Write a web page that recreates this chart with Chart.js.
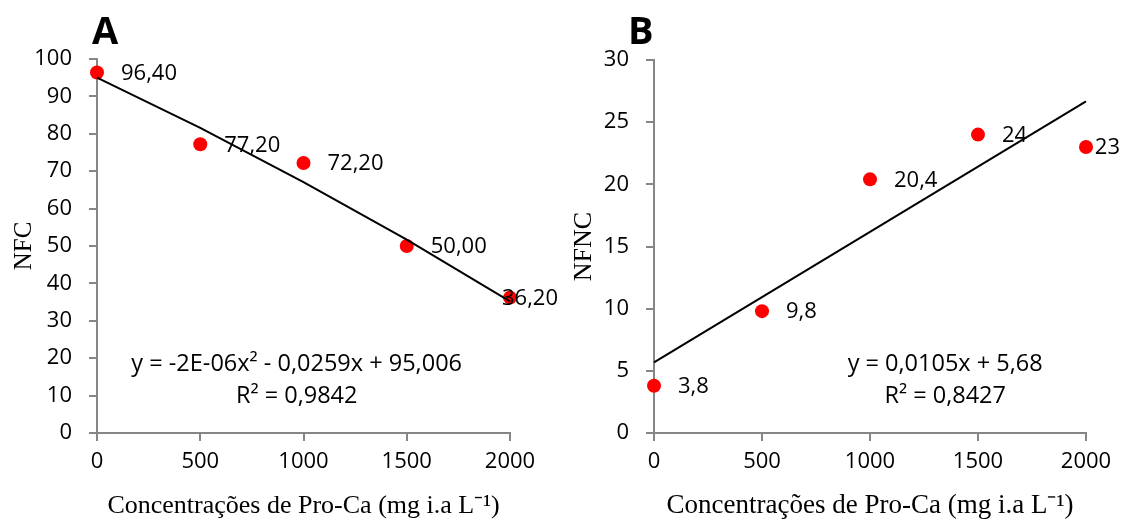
<!DOCTYPE html>
<html>
<head>
<meta charset="utf-8">
<script src="https://cdn.jsdelivr.net/npm/chart.js@4"></script>
<style>
  body { margin: 0; background: #fff; }
  #wrap { position: relative; width: 1122px; height: 523px; }
  #chartA { position: absolute; left: 0; top: 0; }
  #chartB { position: absolute; left: 560px; top: 0; }
</style>
</head>
<body>
<div id="wrap">
  <canvas id="chartA" width="560" height="523"></canvas>
  <canvas id="chartB" width="562" height="523"></canvas>
</div>
<script>
// dose levels (mg i.a. L-1)
const doses = [0, 500, 1000, 1500, 2000];

// panel A - NFC
const nfc = [96.4, 77.2, 72.2, 50.0, 36.2];
const nfcLabels = ['96,40', '77,20', '72,20', '50,00', '36,20'];
const nfcTrend = [95.0, 81.6, 67.1, 51.7, 35.2];
const nfcEquation = ['y = -2E-06x² - 0,0259x + 95,006', 'R² = 0,9842'];

// panel B - NFNC
const nfnc = [3.8, 9.8, 20.4, 24, 23];
const nfncLabels = ['3,8', '9,8', '20,4', '24', '23'];
const nfncTrendX = [0, 2000];
const nfncTrend = [5.68, 26.68];
const nfncEquation = ['y = 0,0105x + 5,68', 'R² = 0,8427'];

const xTitle = 'Concentrações de Pro-Ca (mg i.a L⁻¹)';
const tickFont = { family: '"Open Sans", sans-serif', size: 22 };
const axisGray = '#868686';

// draws value labels, the trend equation and the panel letter
const annotations = {
    id: 'annotations',
    afterDatasetsDraw(chart, args, opts) {
        const ctx = chart.ctx;
        const meta = chart.getDatasetMeta(1);
        ctx.save();
        ctx.font = '22px "Open Sans", sans-serif';
        ctx.fillStyle = '#000';
        ctx.textBaseline = 'middle';
        ctx.textAlign = 'left';
        meta.data.forEach((pt, i) => {
            const txt = opts.labels[i];
            const w = ctx.measureText(txt).width;
            let x = pt.x + 24;
            if (x + w > chart.width - 2) x = chart.width - 2 - w;
            ctx.fillText(txt, x, pt.y + 1);
        });
        ctx.font = '23.5px "Open Sans", sans-serif';
        ctx.textAlign = 'center';
        opts.equation.forEach((line, j) => {
            ctx.fillText(line, chart.scales.x.getPixelForValue(opts.eqX), chart.scales.y.getPixelForValue(opts.eqY[j]));
        });
        ctx.font = 'bold 38px "Open Sans", sans-serif';
        ctx.textAlign = 'left';
        ctx.textBaseline = 'alphabetic';
        ctx.fillText(opts.panel, opts.panelX, 44);
        ctx.restore();
    }
};

function makeChart(id, cfg) {
    return new Chart(document.getElementById(id), {
        type: 'scatter',
        data: {
            datasets: [{
                data: cfg.trendX.map((x, i) => ({ x: x, y: cfg.trend[i] })),
                showLine: true,
                borderColor: '#000',
                borderWidth: 2,
                pointRadius: 0,
                clip: false
            }, {
                data: doses.map((x, i) => ({ x: x, y: cfg.values[i] })),
                backgroundColor: '#ff0000',
                borderColor: '#ff0000',
                pointRadius: 7,
                borderWidth: 0,
                clip: false
            }]
        },
        options: {
            responsive: false,
            animation: false,
            layout: { padding: { left: 0, right: cfg.padRight, top: cfg.padTop, bottom: 0 } },
            plugins: {
                legend: { display: false },
                tooltip: { enabled: false },
                annotations: {
                    labels: cfg.labels,
                    equation: cfg.equation,
                    eqX: cfg.eqX,
                    eqY: cfg.eqY,
                    panel: cfg.panel,
                    panelX: cfg.panelX
                }
            },
            scales: {
                x: {
                    type: 'linear',
                    min: 0,
                    max: 2000,
                    afterFit: s => { s.height = 90; },
                    ticks: { stepSize: 500, color: '#000', font: tickFont, padding: 8, maxRotation: 0, callback: v => String(v) },
                    grid: { drawOnChartArea: false, drawTicks: true, tickLength: 8, color: axisGray, lineWidth: 2 },
                    border: { color: axisGray, width: 2 },
                    title: {
                        display: true,
                        text: xTitle,
                        color: '#000',
                        font: { family: '"Liberation Serif", serif', size: cfg.xTitleSize },
                        padding: { top: 0, bottom: 1 }
                    }
                },
                y: {
                    min: 0,
                    max: cfg.yMax,
                    afterFit: s => { s.width = cfg.axisLeft; },
                    ticks: { stepSize: cfg.yStep, color: '#000', font: tickFont, padding: 17, callback: v => String(v) },
                    grid: { drawOnChartArea: false, drawTicks: true, tickLength: 8, color: axisGray, lineWidth: 2 },
                    border: { color: axisGray, width: 2 },
                    title: {
                        display: true,
                        text: cfg.yTitle,
                        color: '#000',
                        font: { family: '"Liberation Serif", serif', size: cfg.yTitleSize },
                        padding: { top: 9, bottom: 0 }
                    }
                }
            }
        },
        plugins: [annotations]
    });
}

makeChart('chartA', {
    values: nfc, trendX: doses, trend: nfcTrend, labels: nfcLabels,
    equation: nfcEquation, eqX: 967, eqY: [18.4, 9.9],
    yMax: 100, yStep: 10, yTitle: 'NFC', xTitleSize: 26, yTitleSize: 25,
    axisLeft: 97, padRight: 50, padTop: 59,
    panel: 'A', panelX: 92
});

makeChart('chartB', {
    values: nfnc, trendX: nfncTrendX, trend: nfncTrend, labels: nfncLabels,
    equation: nfncEquation, eqX: 1348, eqY: [5.55, 2.98],
    yMax: 30, yStep: 5, yTitle: 'NFNC', xTitleSize: 27, yTitleSize: 26,
    axisLeft: 94, padRight: 36, padTop: 60,
    panel: 'B', panelX: 68
});
</script>
</body>
</html>
